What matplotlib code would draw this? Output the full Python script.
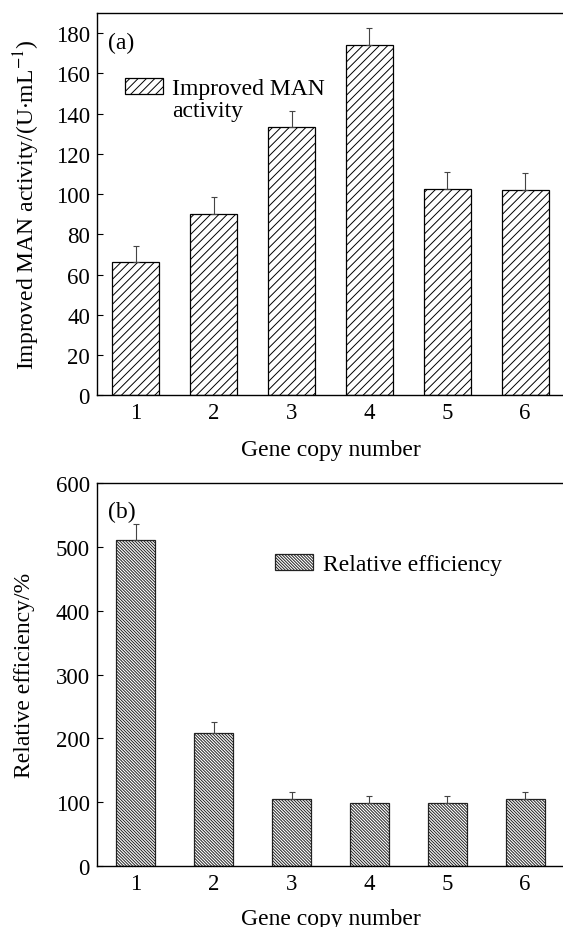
import matplotlib
matplotlib.use("Agg")
import matplotlib.pyplot as plt
from matplotlib.patches import Patch

plt.rcParams['font.family'] = ['Liberation Serif', 'DejaVu Serif']
plt.rcParams['hatch.linewidth'] = 0.7
plt.rcParams['mathtext.fontset'] = 'stix'

# === DATA ===
copies = [1, 2, 3, 4, 5, 6]
activity = [66.3, 90.3, 133.4, 174.2, 102.6, 102.0]
activity_err = [8.0, 8.0, 7.8, 8.1, 8.3, 8.4]
efficiency = [511, 209, 104, 99, 99, 104]
efficiency_err = [26, 16, 11, 11, 11, 11]
tick_labels = ["1", "2", "3", "4", "5", "6"]

FS = 17
TFS = 16.5

fig = plt.figure(figsize=(5.63, 9.28), dpi=100)
ax1 = fig.add_axes([0.172, 0.573, 0.83, 0.412])
ax2 = fig.add_axes([0.172, 0.066, 0.83, 0.412])

def style(ax, xlab_y, ylab_x):
    ax.set_xlim(0.5, 6.5)
    ax.set_xticks(copies)
    ax.set_xticklabels(tick_labels)
    ax.tick_params(direction='in', labelsize=TFS, length=4, width=0.8, pad=5)
    for s in ax.spines.values():
        s.set_linewidth(1.0)
    ax.set_xlabel("Gene copy number", fontsize=FS)
    ax.xaxis.set_label_coords(0.5, xlab_y)
    ax.xaxis.label.set_verticalalignment('center')
    ax.yaxis.set_label_coords(ylab_x, 0.5)
    ax.yaxis.label.set_verticalalignment('center')

# === (a) ===
bars1 = ax1.bar(copies, activity, width=0.6, color='white', edgecolor='black',
                linewidth=0.9, hatch='////', zorder=2)
ax1.errorbar(copies, activity, yerr=[[0]*6, activity_err], fmt='none',
             ecolor='#444444', elinewidth=0.8, capsize=2.5, capthick=0.8, zorder=3)
ax1.set_ylim(0, 190)
ax1.set_yticks(range(0, 181, 20))
ax1.set_ylabel("Improved MAN activity/(U$\\cdot$mL$^{-1}$)", fontsize=FS)
style(ax1, -0.141, -0.150)
ax1.text(0.64, 175.5, "(a)", fontsize=FS, va='center')
ax1.legend([bars1, Patch(visible=False)], ["Improved MAN", "activity"],
           loc='upper left', bbox_to_anchor=(0.06, 0.829), frameon=False,
           fontsize=FS, handlelength=1.6, handleheight=0.65, handletextpad=0.4,
           labelspacing=0.0, borderpad=0, borderaxespad=0)

# === (b) ===
ax2.bar(copies, efficiency, width=0.5, color='white', edgecolor='#222222',
        linewidth=0.9, hatch='\\' * 11, label="Relative efficiency", zorder=2)
ax2.errorbar(copies, efficiency, yerr=[[0]*6, efficiency_err], fmt='none',
             ecolor='#444444', elinewidth=0.8, capsize=2.5, capthick=0.8, zorder=3)
ax2.set_ylim(0, 600)
ax2.set_yticks(range(0, 601, 100))
ax2.set_ylabel("Relative efficiency/%", fontsize=FS)
style(ax2, -0.137, -0.155)
ax2.text(0.64, 556, "(b)", fontsize=FS, va='center')
ax2.legend(loc='upper left', bbox_to_anchor=(0.382, 0.815), frameon=False,
           fontsize=FS, handlelength=1.6, handleheight=0.65, handletextpad=0.4,
           borderpad=0, borderaxespad=0)

fig.savefig("out.png", dpi=100)
